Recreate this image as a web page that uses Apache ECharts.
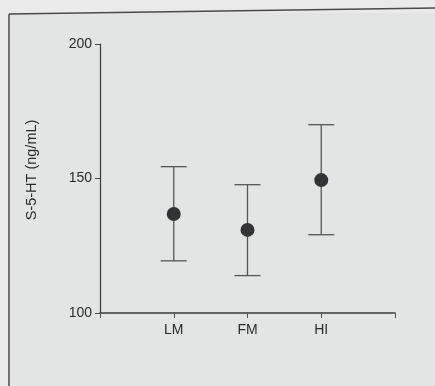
<!DOCTYPE html>
<html>
<head>
<meta charset="utf-8">
<script src="https://cdn.jsdelivr.net/npm/echarts@6/dist/echarts.min.js"></script>
<style>
html,body{margin:0;padding:0;background:#e9eae9;}
#chart{width:435px;height:386px;}
</style>
</head>
<body>
<div id="chart"></div>
<script>
var categories = ['LM', 'FM', 'HI'];
var means = [136.8, 130.9, 149.4];
var upper = [154.4, 147.7, 170.0];
var lower = [119.4, 113.9, 129.1];
var yTicks = [100, 150, 200];

var chart = echarts.init(document.getElementById('chart'));
var errData = categories.map(function (c, i) { return [i + 1, lower[i], upper[i]]; });
var dotData = categories.map(function (c, i) { return [i + 1, means[i]]; });
var FONT = 'Liberation Sans, Arial, sans-serif';

chart.setOption({
  backgroundColor: '#e9eae9',
  animation: false,
  graphic: [
    { type: 'rect', shape: { x: 9, y: 13, width: 440, height: 390 }, style: { fill: '#e3e5e4', stroke: null }, z: -10 },
    { type: 'line', shape: { x1: 9, y1: 14, x2: 435, y2: 8 }, style: { stroke: '#4a4a4a', lineWidth: 1.5 }, z: -5 },
    { type: 'line', shape: { x1: 9, y1: 14, x2: 9, y2: 386 }, style: { stroke: '#4a4a4a', lineWidth: 1.5 }, z: -5 }
  ],
  grid: { left: 100, right: 40, top: 44, bottom: 73 },
  xAxis: {
    type: 'value', min: 0, max: 4, interval: 1,
    axisLine: { lineStyle: { color: '#3a3a3a', width: 1.5 } },
    axisTick: { show: true, length: 5, lineStyle: { color: '#555', width: 1 } },
    splitLine: { show: false },
    axisLabel: {
      color: '#2a2a2a', fontFamily: FONT, fontSize: 14, margin: 10,
      formatter: function (v) { return categories[v - 1] || ''; }
    }
  },
  yAxis: {
    type: 'value', min: yTicks[0], max: yTicks[yTicks.length - 1], interval: 50,
    name: 'S-5-HT (ng/mL)', nameLocation: 'middle', nameGap: 61,
    nameTextStyle: { color: '#2a2a2a', fontFamily: FONT, fontSize: 14.5, padding: [0, 0, 0, 17] },
    axisLine: { show: true, lineStyle: { color: '#3a3a3a', width: 1.2 } },
    axisTick: { show: true, length: 5, lineStyle: { color: '#444', width: 1 } },
    splitLine: { show: false },
    axisLabel: { color: '#2a2a2a', fontFamily: FONT, fontSize: 14, margin: 8 }
  },
  series: [
    {
      type: 'custom',
      data: errData,
      renderItem: function (params, api) {
        var x = api.value(0);
        var lo = api.coord([x, api.value(1)]);
        var hi = api.coord([x, api.value(2)]);
        var hw = 13;
        var st = { stroke: '#555', lineWidth: 1.3 };
        return {
          type: 'group',
          children: [
            { type: 'line', shape: { x1: lo[0], y1: lo[1], x2: hi[0], y2: hi[1] }, style: st },
            { type: 'line', shape: { x1: lo[0] - hw, y1: lo[1], x2: lo[0] + hw, y2: lo[1] }, style: st },
            { type: 'line', shape: { x1: hi[0] - hw, y1: hi[1], x2: hi[0] + hw, y2: hi[1] }, style: st }
          ]
        };
      },
      z: 2
    },
    {
      type: 'scatter',
      data: dotData,
      symbol: 'circle',
      symbolSize: 14,
      itemStyle: { color: '#333335', opacity: 1 },
      z: 3
    }
  ]
});
</script>
</body>
</html>
